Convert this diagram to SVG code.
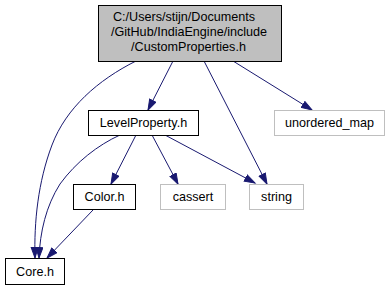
<svg xmlns="http://www.w3.org/2000/svg" width="391" height="291" viewBox="0 0 391 291">
  <style>
    .box { fill: #ffffff; stroke: #000000; stroke-width: 1; }
    .root { fill: #bfbfbf; stroke: #000000; stroke-width: 1; }
    .ext { fill: #ffffff; stroke: #bfbfbf; stroke-width: 1; }
    text { font-family: "Liberation Sans", Arial, sans-serif; font-size: 12.6px; fill: #000000; text-anchor: middle; }
    .edge { fill: none; stroke: #191970; stroke-width: 1; marker-end: url(#arrow); }
  </style>
  <defs>
    <marker id="arrow" markerUnits="userSpaceOnUse" markerWidth="13" markerHeight="10" refX="11" refY="4" orient="auto">
      <path d="M0.5,0.5 L11,4 L0.5,7.5 z" fill="#191970" stroke="#191970" stroke-width="1"/>
    </marker>
  </defs>
  <rect width="391" height="291" fill="#ffffff"/>

  <!-- include dependencies -->
  <g id="edges">
    <path class="edge" d="M136,61 C98,80 66,108 52,145 C38,182 34,222 35,258"/>
    <path class="edge" d="M173,61 L148,110"/>
    <path class="edge" d="M204,61 L267,184"/>
    <path class="edge" d="M233,61 L312,110"/>
    <path class="edge" d="M120,135 C98,145 76,162 60,184 C46,206 40,232 39,258"/>
    <path class="edge" d="M136,135 L111,184"/>
    <path class="edge" d="M152,135 L178,184"/>
    <path class="edge" d="M165,135 L255,183"/>
    <path class="edge" d="M93,210 L47,258"/>
  </g>

  <g id="node-customproperties">
    <rect class="root" x="98.5" y="5.5" width="183" height="56"/>
    <text x="184" y="21">C:/Users/stijn/Documents</text>
    <text x="189" y="36">/GitHub/IndiaEngine/include</text>
    <text x="188.5" y="51">/CustomProperties.h</text>
  </g>
  <g id="node-levelproperty">
    <rect class="box" x="88.5" y="110.5" width="110" height="25"/>
    <text x="143.5" y="127">LevelProperty.h</text>
  </g>
  <g id="node-unordered-map">
    <rect class="ext" x="274.5" y="110.5" width="110" height="25"/>
    <text x="329.5" y="127">unordered_map</text>
  </g>
  <g id="node-color">
    <rect class="box" x="73.5" y="184.5" width="62" height="25"/>
    <text x="104.5" y="201">Color.h</text>
  </g>
  <g id="node-cassert">
    <rect class="ext" x="160.5" y="184.5" width="65" height="25"/>
    <text x="193" y="201">cassert</text>
  </g>
  <g id="node-string">
    <rect class="ext" x="249.5" y="184.5" width="54" height="25"/>
    <text x="276.5" y="201">string</text>
  </g>
  <g id="node-core">
    <rect class="box" x="5.5" y="258.5" width="59" height="26"/>
    <text x="35" y="275.5">Core.h</text>
  </g>
</svg>
